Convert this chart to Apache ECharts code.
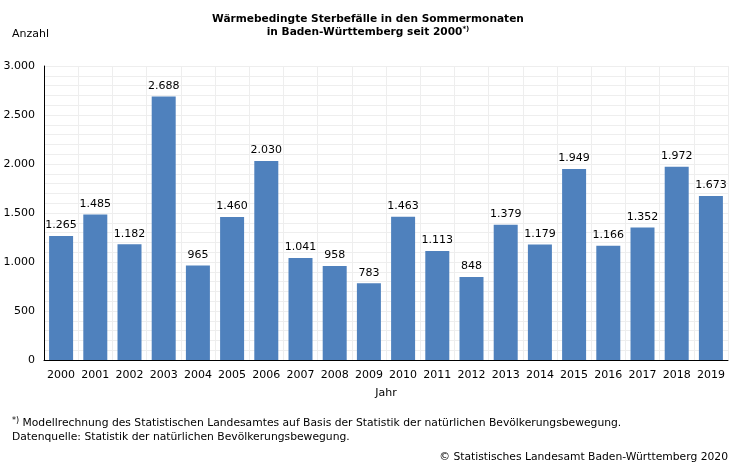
<!DOCTYPE html>
<html><head><meta charset="utf-8">
<script src="https://cdn.jsdelivr.net/npm/echarts@6/dist/echarts.min.js"></script>
<style>html,body{margin:0;padding:0;background:#fff}#c{width:736px;height:464px}</style>
</head><body><div id="c"></div>
<script>
const years = ['2000','2001','2002','2003','2004','2005','2006','2007','2008','2009','2010','2011','2012','2013','2014','2015','2016','2017','2018','2019'];
const deaths = [1265,1485,1182,2688,965,1460,2030,1041,958,783,1463,1113,848,1379,1179,1949,1166,1352,1972,1673];
const yTicks = [0,500,1000,1500,2000,2500,3000];

const F = '"DejaVu Sans", Verdana, sans-serif';
const fmt = v => String(v).replace(/\B(?=(\d{3})+(?!\d))/g, '.');
const chart = echarts.init(document.getElementById('c'), null, {renderer:'canvas'});
chart.setOption({
  animation:false,
  backgroundColor:'#fff',
  title:{
    text:'{b|Wärmebedingte Sterbefälle in den Sommermonaten}\n{b|in Baden-Württemberg seit 2000}{s|*)}',
    left:'center', top:8,
    textStyle:{rich:{
      b:{fontFamily:F,fontSize:10.6,fontWeight:'bold',color:'#000',lineHeight:13,align:'center'},
      s:{fontFamily:F,fontSize:7,fontWeight:'bold',color:'#000',verticalAlign:'top',lineHeight:13}
    }}
  },
  graphic:[
    {type:'text',left:12,top:29,style:{text:'Anzahl',font:'11px '+F,fill:'#000'}},
    {type:'text',left:12,top:417,style:{rich:{s:{fontSize:8,fontFamily:F,fill:'#000',verticalAlign:'top'},t:{fontSize:10.75,fontFamily:F,fill:'#000'}},text:'{s|*)} {t|Modellrechnung des Statistischen Landesamtes auf Basis der Statistik der natürlichen Bevölkerungsbewegung.}'}},
    {type:'text',left:12,top:432,style:{text:'Datenquelle: Statistik der natürlichen Bevölkerungsbewegung.',font:'10.75px '+F,fill:'#000'}},
    {type:'text',right:8,top:452,style:{text:'© Statistisches Landesamt Baden-Württemberg 2020',font:'10.75px '+F,fill:'#000'}}
  ],
  grid:{left:44,right:8,top:66,bottom:104,containLabel:false},
  xAxis:{
    type:'category', data:years,
    name:'Jahr', nameLocation:'middle', nameGap:28,
    nameTextStyle:{fontFamily:F,fontSize:11,color:'#000'},
    axisLine:{lineStyle:{color:'#000',width:1}},
    axisTick:{show:false},
    axisLabel:{fontFamily:F,fontSize:11,color:'#000',margin:10,interval:0},
    splitLine:{show:true,interval:0,lineStyle:{color:'#eeeeee',width:1}}
  },
  yAxis:{
    type:'value', min:0, max:3000, interval:500,
    axisLine:{show:true,lineStyle:{color:'#000',width:1}},
    axisTick:{show:false},
    axisLabel:{fontFamily:F,fontSize:11,color:'#000',margin:9,formatter:v=>fmt(v)},
    splitLine:{show:true,lineStyle:{color:'#eeeeee',width:1}},
    minorTick:{show:false,splitNumber:5},
    minorSplitLine:{show:true,lineStyle:{color:'#eeeeee',width:1}}
  },
  series:[{
    type:'bar', data:deaths, barWidth:24,
    itemStyle:{color:'#4f81bd'},
    label:{show:true,position:'top',distance:5,fontFamily:F,fontSize:11,color:'#000',formatter:p=>fmt(p.value)}
  }]
});
</script></body></html>
